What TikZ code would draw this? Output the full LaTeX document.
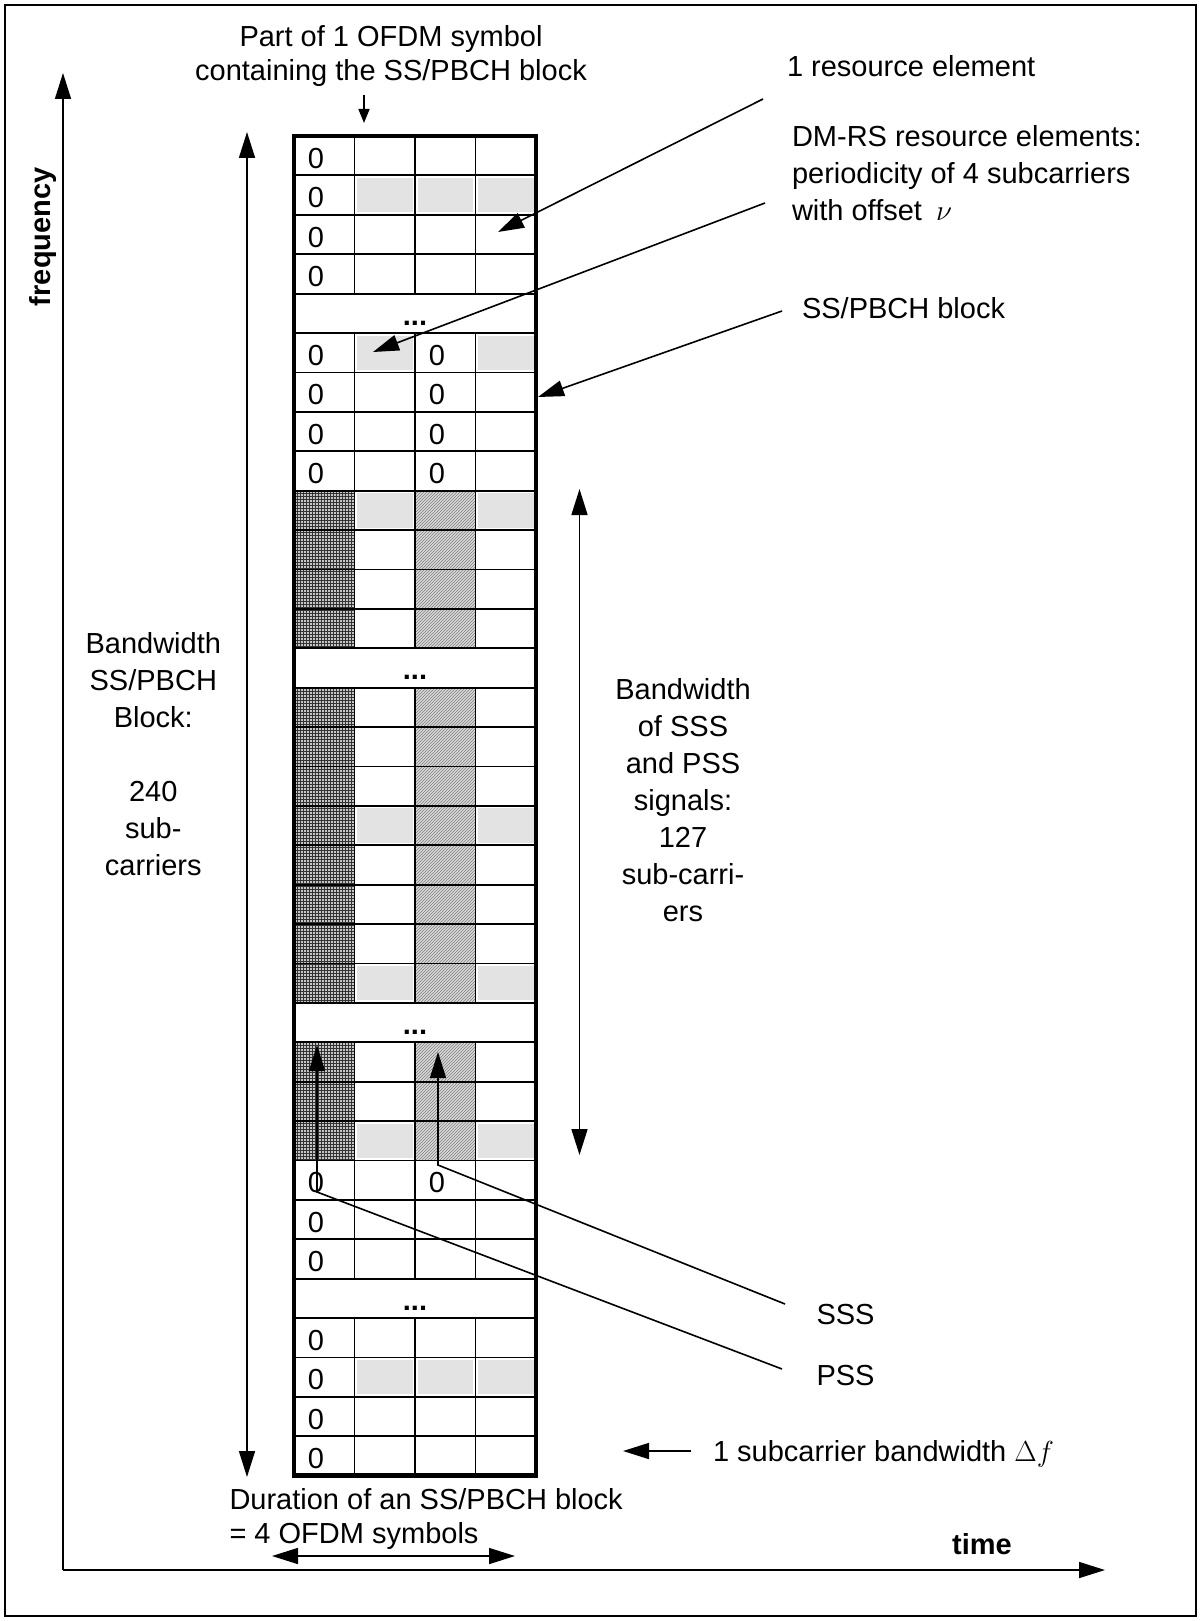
\RequirePackage{fix-cm}
\documentclass[tikz,border=0pt]{standalone}
\usepackage{fontspec}
\setmainfont{Liberation Sans}
\usetikzlibrary{arrows.meta,patterns}
\begin{document}
\begin{tikzpicture}[x=1pt,y=-1pt,
  lbl/.style={font=\fontsize{29}{37}\selectfont, inner sep=0pt, outer sep=0pt},
  boldlbl/.style={lbl, font=\fontsize{29}{37}\selectfont\bfseries},
  zero/.style={lbl, anchor=base},
  dots/.style={boldlbl, anchor=base},
  arr/.style={line width=1.6pt, -{Triangle[length=26pt,width=16pt]}},
  darr/.style={line width=1.6pt, {Triangle[length=26pt,width=16pt]}-{Triangle[length=26pt,width=16pt]}},
  sarr/.style={line width=1.6pt, -{Triangle[length=14pt,width=11pt]}},
  gridline/.style={line width=1.8pt},
  dmrs/.style={fill=gray!22},
  pss/.style={fill=gray!45, postaction={pattern=grid, pattern color=black!80}},
  sss/.style={fill=gray!30, postaction={pattern=north east lines, pattern color=black!50}},
]
\useasboundingbox (0,0) rectangle (1200,1621);
\fill[white] (0,0) rectangle (1200,1621);
\draw[line width=1.5pt] (5,5) rectangle (1196,1616);

\def\gl{294}\def\gr{536}\def\gt{136}\def\rh{39.4}\def\cw{60.5}

% PSS / SSS columns
\foreach \r in {10,11,12,13,15,16,17,18,19,20,21,22,24,25,26}{
  \pgfmathsetmacro\yt{\gt+(\r-1)*\rh}
  \pgfmathsetmacro\yb{\gt+\r*\rh}
  \path[pss] (\gl,\yt) rectangle (\gl+\cw,\yb);
  \path[sss] (\gl+2*\cw,\yt) rectangle (\gl+3*\cw,\yb);
}
% DM-RS resource elements
\foreach \r/\c in {2/2,2/3,2/4,6/2,6/4,10/2,10/4,18/2,18/4,22/2,22/4,26/2,26/4,32/2,32/3,32/4}{
  \pgfmathsetmacro\yt{\gt+(\r-1)*\rh+2.5}
  \pgfmathsetmacro\yb{\gt+\r*\rh-2.5}
  \pgfmathsetmacro\xl{\gl+(\c-1)*\cw+2.5}
  \pgfmathsetmacro\xr{\gl+\c*\cw-2.5}
  \path[dmrs] (\xl,\yt) rectangle (\xr,\yb);
}
% horizontal grid lines
\foreach \r in {1,2,3,4,5,6,7,8,9,10,11,12,13,14,15,16,17,18,19,20,21,22,23,24,25,26,27,28,29,30,31,32,33}{
  \pgfmathsetmacro\yy{\gt+\r*\rh}
  \draw[gridline] (\gl,\yy) -- (\gr,\yy);
}
% vertical grid lines
\foreach \a/\b in {1/4,6/13,15/22,24/29,31/34}{
  \pgfmathsetmacro\ya{\gt+(\a-1)*\rh}
  \pgfmathsetmacro\yz{\gt+\b*\rh}
  \foreach \c in {1,2,3}{
    \draw[gridline] (\gl+\c*\cw,\ya) -- (\gl+\c*\cw,\yz);
  }
}
% block border
\draw[line width=4.5pt] (\gl,\gt) rectangle (\gr,\gt+34*\rh);

% zeros
\foreach \r in {1,2,3,4,6,7,8,9,27,28,29,31,32,33,34}{
  \pgfmathsetmacro\yy{\gt+(\r-1)*\rh+32.5}
  \node[zero] (za\r) at (\gl+22,\yy) {0};
}
\foreach \r in {6,7,8,9,27}{
  \pgfmathsetmacro\yy{\gt+(\r-1)*\rh+32.5}
  \node[zero] (zc\r) at (\gl+2*\cw+22,\yy) {0};
}
% gaps
\foreach \r in {5,14,23,30}{
  \pgfmathsetmacro\yy{\gt+\r*\rh-8}
  \node[dots] (dots\r) at (415,\yy) {...};
}

% axes
\coordinate (origin) at (63,1570);
\coordinate (ftip) at (63,73);
\coordinate (ttip) at (1105,1570);
\draw[arr] (origin) -- (ftip);
\draw[arr] (origin) -- (ttip);
\node[boldlbl, rotate=90, anchor=base] (freq) at (50,236.7) {frequency};
\node[boldlbl, anchor=base] (time) at (982,1554) {time};

% top label
\node[lbl, font=\fontsize{29}{34}\selectfont, align=center] (toplbl) at (391,56) {Part of 1 OFDM symbol\\containing the SS/PBCH block};
\coordinate (tA) at (364,95);
\coordinate (tB) at (364,123);
\draw[sarr] (tA) -- (tB);

% right-top labels
\node[lbl, anchor=base west] (re) at (787,76.5) {1 resource element};
\coordinate (reA) at (763,99);
\coordinate (reB) at (498,232);
\draw[arr] (reA) -- (reB);

\node[lbl, anchor=west, align=left] (dmrslbl) at (792,173) {DM-RS resource elements:\\periodicity of 4 subcarriers\\with offset\hspace{14pt}$\nu$};
\coordinate (dmA) at (765,203);
\coordinate (dmB) at (373,352);
\draw[arr] (dmA) -- (dmB);

\node[lbl, anchor=base west] (ssb) at (802,318) {SS/PBCH block};
\coordinate (sbA) at (782,311);
\coordinate (sbB) at (538,397);
\draw[arr] (sbA) -- (sbB);

% left bandwidth
\coordinate (lbT) at (247,132);
\coordinate (lbB) at (247,1477);
\draw[darr] (lbT) -- (lbB);
\node[lbl, align=center] (bwl) at (153.3,754) {Bandwidth\\SS/PBCH\\Block:\\[37pt]240\\sub-\\carriers};

% right bandwidth
\coordinate (rbT) at (579.5,489);
\coordinate (rbB) at (579.5,1155);
\draw[darr] (rbT) -- (rbB);
\node[lbl, align=center] (bwr) at (683,800) {Bandwidth\\of SSS\\and PSS\\signals:\\127\\sub-carri-\\ers};

% SSS / PSS
\node[lbl, anchor=base west] (sss) at (816.5,1324) {SSS};
\node[lbl, anchor=base west] (pss) at (816.5,1385) {PSS};
\coordinate (sA) at (785,1304);
\coordinate (sB) at (438,1165);
\coordinate (sC) at (438,1052);
\draw[arr] (sA) -- (sB) -- (sC);
\coordinate (pA) at (782,1369);
\coordinate (pB) at (317,1192);
\coordinate (pC) at (317,1045);
\draw[arr] (pA) -- (pB) -- (pC);

% subcarrier bandwidth
\node[lbl, anchor=base west] (scb) at (713,1461) {1 subcarrier bandwidth $\Delta f$};
\coordinate (scA) at (691,1451);
\coordinate (scB) at (623,1451);
\draw[arr] (scA) -- (scB);

% duration
\node[lbl, font=\fontsize{29}{34}\selectfont, anchor=west, align=left] (dur) at (229.5,1518.5) {Duration of an SS/PBCH block\\= 4 OFDM symbols};
\coordinate (dL) at (272,1556);
\coordinate (dR) at (515,1556);
\draw[darr] (dL) -- (dR);
\end{tikzpicture}
\end{document}
